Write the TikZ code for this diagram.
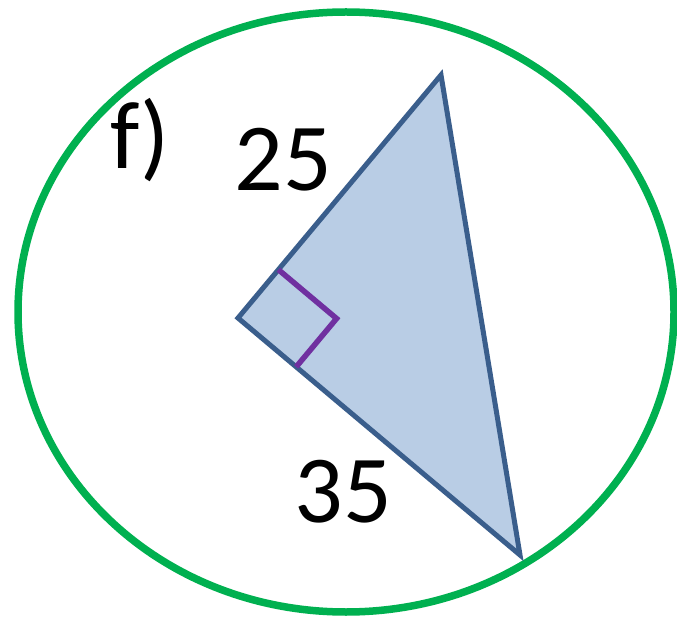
\documentclass[tikz,border=0pt]{standalone}
\usepackage{fontspec}
\setmainfont{Carlito}
\usetikzlibrary{calc}

\definecolor{ringgreen}{HTML}{00B050}
\definecolor{edgeblue}{HTML}{3A5E8C}
\definecolor{faceblue}{HTML}{B9CDE5}
\definecolor{markpurple}{HTML}{7030A0}

\begin{document}
\begin{tikzpicture}[
    x=1pt, y=-1pt,
    every node/.style={font=\fontsize{96}{100}\selectfont, inner sep=0pt},
    ring/.style={draw=ringgreen, line width=7.5pt},
    face/.style={draw=edgeblue, fill=faceblue, line width=5pt, line join=miter},
    corner/.style={draw=markpurple, line width=5.5pt},
]
\useasboundingbox (0,0) rectangle (677,617);

% ── Outer ring ───────────────────────────────────────────────────────────────
\draw[ring] (346,312) ellipse [x radius=328, y radius=300];

% ── Triangle ─────────────────────────────────────────────────────────────────
\coordinate (A) at (238,318);
\coordinate (B) at (441,75);
\coordinate (C) at (520,555);
\draw[face] (A) -- (B) -- (C) -- cycle;

% right angle mark
\coordinate (mAB) at ($(A)!63pt!(B)$);
\coordinate (mAC) at ($(A)!76pt!(C)$);
\draw[corner] (mAB) -- ($(mAB)+(mAC)-(A)$) -- (mAC);

% ── Labels ───────────────────────────────────────────────────────────────────
\node (tag) at (140,140) {f)};
\node (ab) at (283,160) {25};
\node (ac) at (343,492) {35};

\end{tikzpicture}
\end{document}
